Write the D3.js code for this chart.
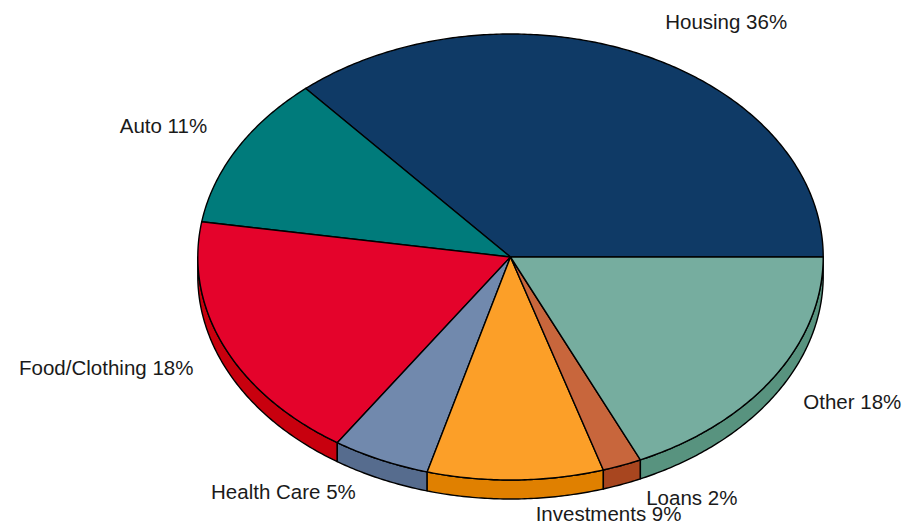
<!DOCTYPE html>
<html><head><meta charset="utf-8">
<script src="https://cdn.jsdelivr.net/npm/d3@7"></script>
<style>body{margin:0;background:#fff}svg{display:block}</style>
</head><body>
<svg id="chart" width="908" height="526"></svg>
<script>
const categories = ["Housing", "Auto", "Food/Clothing", "Health Care", "Investments", "Loans", "Other"];
const values = [36, 11, 18, 5, 9, 2, 18];
const labels = ["Housing 36%", "Auto 11%", "Food/Clothing 18%", "Health Care 5%", "Investments 9%", "Loans 2%", "Other 18%"];
const topColors = ["#0f3a66", "#007b7b", "#e4032b", "#7189ad", "#fc9f28", "#c8663c", "#76ad9f"];
const sideColors = ["#0a2a4a", "#005a5a", "#c8000e", "#566c8e", "#e08000", "#a8461f", "#58937f"];

const W = 908, H = 526;
const cx = 510.5, cy = 257, rx = 312.7, ry = 223, depth = 19;
const svg = d3.select("#chart");

const x = d3.scaleLinear().domain([-1, 1]).range([cx - rx, cx + rx]);
const y = d3.scaleLinear().domain([-1, 1]).range([cy + ry, cy - ry]);

const pie = d3.pie().sort(null).startAngle(0).endAngle(2 * Math.PI);
const arcs = pie(values);
const line = d3.line();

function arcPts(a0, a1, dy) {
  const n = Math.max(2, Math.ceil((a1 - a0) / 0.01));
  const pts = [];
  for (let i = 0; i <= n; i++) {
    const t = a0 + (a1 - a0) * i / n;
    pts.push([x(Math.cos(t)), y(Math.sin(t)) + dy]);
  }
  return pts;
}

// sides (front half only)
const gSide = svg.append("g");
arcs.forEach((d, i) => {
  const a0 = Math.max(d.startAngle, Math.PI), a1 = Math.min(d.endAngle, 2 * Math.PI);
  if (a1 <= a0) return;
  const pts = arcPts(a0, a1, 0).concat(arcPts(a0, a1, depth).reverse());
  gSide.append("path")
    .attr("d", line(pts) + "Z")
    .attr("fill", sideColors[i])
    .attr("stroke", "#000").attr("stroke-width", 1.4).attr("stroke-linejoin", "round");
});

// tops
const gTop = svg.append("g");
arcs.forEach((d, i) => {
  const pts = [[x(0), y(0)]].concat(arcPts(d.startAngle, d.endAngle, 0));
  gTop.append("path")
    .attr("d", line(pts) + "Z")
    .attr("fill", topColors[i])
    .attr("stroke", "#000").attr("stroke-width", 1.4).attr("stroke-linejoin", "round");
});

// labels
const lrx = 1.037, lry = 1.1, padX = 20, padY = 12;
const gLab = svg.append("g");
arcs.forEach((d, i) => {
  const m = (d.startAngle + d.endAngle) / 2;
  const c = Math.cos(m), s = Math.sin(m);
  const sx = c >= 0 ? 1 : -1, sy = s >= 0 ? 1 : -1;
  gLab.append("text")
    .attr("x", x(c * lrx) + padX * sx)
    .attr("y", y(s * lry) - padY * sy)
    .attr("dy", "0.35em")
    .attr("text-anchor", sx > 0 ? "start" : "end")
    .attr("font-family", "Liberation Sans, Arial, sans-serif")
    .attr("font-size", "20.5px")
    .attr("fill", "#1a1a1a")
    .text(labels[i]);
});
</script>
</body></html>
